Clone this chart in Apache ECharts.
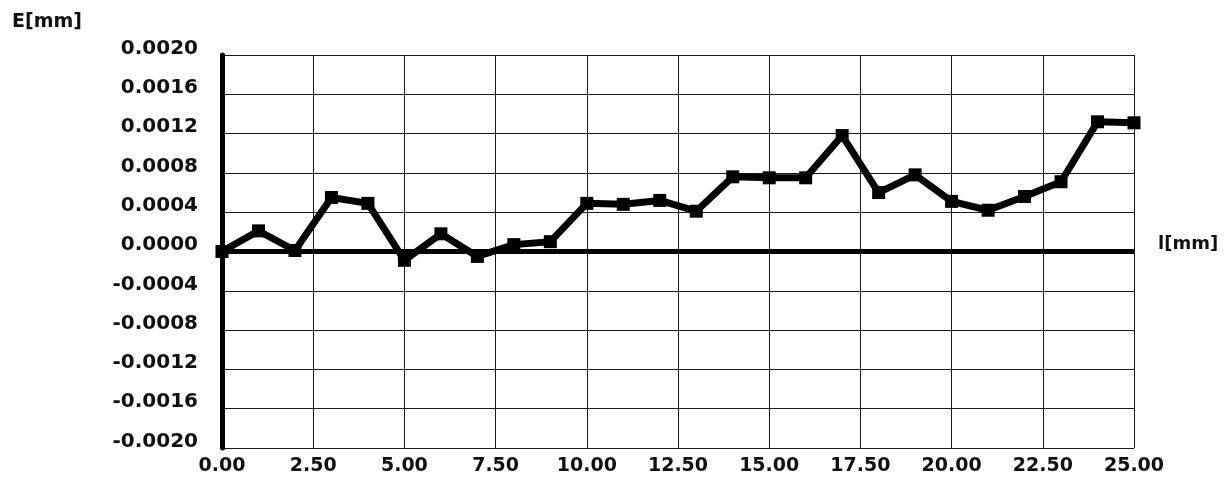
<!DOCTYPE html>
<html>
<head>
<meta charset="utf-8">
<script src="https://cdn.jsdelivr.net/npm/echarts@6/dist/echarts.min.js"></script>
<style>
  html, body { margin: 0; padding: 0; background: #fff; }
  #chart { width: 1226px; height: 479px; }
</style>
</head>
<body>
<div id="chart"></div>
<script>
// Measurement positions along the length (mm)
const positions = [0, 1, 2, 3, 4, 5, 6, 7, 8, 9, 10, 11, 12, 13, 14, 15, 16, 17, 18, 19, 20, 21, 22, 23, 24, 25];
// Deviation at each position (mm)
const deviations = [0.0000, 0.00021, 0.00001, 0.00055, 0.00049, -0.00009, 0.00018, -0.00005, 0.00007, 0.0001,
  0.00049, 0.00048, 0.00052, 0.00041, 0.00076, 0.00075, 0.00075, 0.00118, 0.0006, 0.00078,
  0.00051, 0.00042, 0.00056, 0.00071, 0.00132, 0.00131];
// Axis ranges and tick steps
const xRange = [0, 25];
const xStep = 2.5;
const yRange = [-0.002, 0.002];
const yStep = 0.0004;
const yTitle = 'E[mm]';
const xTitle = 'l[mm]';

const FONT = 'DejaVu Sans';
const chart = echarts.init(document.getElementById('chart'), null, { renderer: 'canvas' });

chart.setOption({
  animation: false,
  backgroundColor: '#ffffff',
  grid: { left: 222, right: 92, top: 55, bottom: 31, containLabel: false },
  xAxis: {
    type: 'value',
    min: xRange[0], max: xRange[1], interval: xStep,
    axisLine: { show: false },
    axisTick: { show: false },
    splitLine: { show: true, lineStyle: { color: '#1a1a1a', width: 1 } },
    axisLabel: {
      margin: 9,
      verticalAlign: 'top',
      color: '#111',
      fontFamily: FONT, fontWeight: 'bold', fontSize: 19,
      formatter: v => v.toFixed(2)
    }
  },
  yAxis: {
    type: 'value',
    min: yRange[0], max: yRange[1], interval: yStep,
    axisLine: { show: true, onZero: false, lineStyle: { color: '#000', width: 5 } },
    axisTick: { show: false },
    splitLine: { show: true, lineStyle: { color: '#1a1a1a', width: 1 } },
    axisLabel: {
      margin: 24,
      color: '#111',
      fontFamily: FONT, fontWeight: 'bold', fontSize: 20,
      lineHeight: 13,
      verticalAlign: 'middle',
      // a blank second line lifts each label above its grid line
      formatter: v => v.toFixed(4) + '\n '
    }
  },
  graphic: [
    { type: 'text', left: 12, top: 13,
      style: { text: yTitle, fontFamily: FONT, fontWeight: 'bold', fontSize: 19, fill: '#111' } },
    { type: 'text', left: 1158, top: 235,
      style: { text: xTitle, fontFamily: FONT, fontWeight: 'bold', fontSize: 18, fill: '#111' } }
  ],
  series: [{
    type: 'line',
    data: positions.map((x, i) => [x, deviations[i]]),
    symbol: 'rect',
    symbolSize: 13,
    showAllSymbol: true,
    lineStyle: { color: '#000', width: 7 },
    itemStyle: { color: '#000' },
    markLine: {
      silent: true,
      symbol: 'none',
      label: { show: false },
      lineStyle: { color: '#000', width: 5, type: 'solid' },
      data: [{ yAxis: 0 }]
    }
  }]
});
</script>
</body>
</html>
